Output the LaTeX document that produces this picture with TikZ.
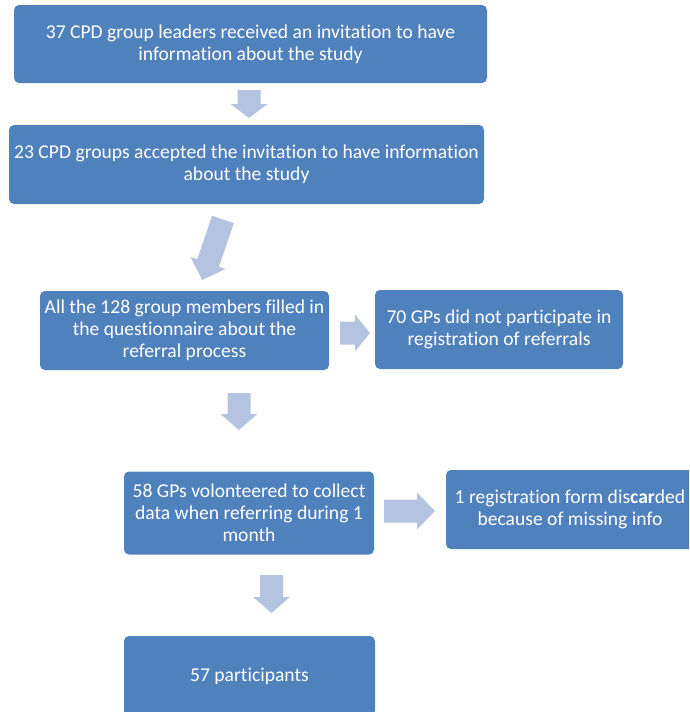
\documentclass[tikz,border=0pt]{standalone}
\usepackage{fontspec}
\setmainfont{Carlito}[Ligatures=CommonOff]
\definecolor{boxblue}{HTML}{4F81BD}
\definecolor{arrowblue}{HTML}{B4C4E0}

% block arrow: tail x, tail y, angle, length, head length
\newcommand{\blockarrow}[5]{%
  \fill [arrowblue, shift={(#1,#2)}, rotate=#3]
  (0,-11.5) --
  (#4-#5,-11.5) --
  (#4-#5,-18.5) --
  (#4,0) --
  (#4-#5,18.5) --
  (#4-#5,11.5) --
  (0,11.5) --
  cycle;
}

\begin{document}
\begin{tikzpicture}[x=1pt, y=-1pt,
  box/.style={fill=boxblue, rounded corners=5pt, inner sep=0pt,
    text=white, align=center, font=\fontsize{19.6}{22}\selectfont}]

  \useasboundingbox (0,0) rectangle (689,712);
  \clip (0,0) rectangle (689,712);

  % Draw boxes
  \node [box, minimum width=473, minimum height=78] (invited) at (250.5,44)
    {37 CPD group leaders received an invitation to have\\information about the study};
  \node [box, minimum width=475, minimum height=79] (accepted) at (246.5,164.5)
    {23 CPD groups accepted the invitation to have information\\about the study};
  \node [box, minimum width=289, minimum height=79] (members) at (184.5,330.5)
    {All the 128 group members filled in\\the questionnaire about the\\referral process};
  \node [box, minimum width=248, minimum height=79] (notpart) at (499,329.5)
    {70 GPs did not participate in\\registration of referrals};
  \node [box, minimum width=250, minimum height=83] (volunteers) at (249,513)
    {58 GPs volonteered to collect\\data when referring during 1\\month};
  \node [box, minimum width=248, minimum height=79] (discarded) at (570,509.5)
    {1 registration form dis\textbf{car}ded\\because of missing info};
  \node [box, minimum width=251, minimum height=80] (participants) at (249.5,676)
    {57 participants};

  % Draw arrows
  \blockarrow{249}{90}{-90}{28}{14}
  \blockarrow{223}{219.5}{-109}{64}{18}
  \blockarrow{340}{333}{0}{30}{15}
  \blockarrow{239}{393}{-90}{37}{16}
  \blockarrow{384}{511}{0}{51}{18}
  \blockarrow{271.5}{575}{-90}{38}{16}

\end{tikzpicture}
\end{document}
